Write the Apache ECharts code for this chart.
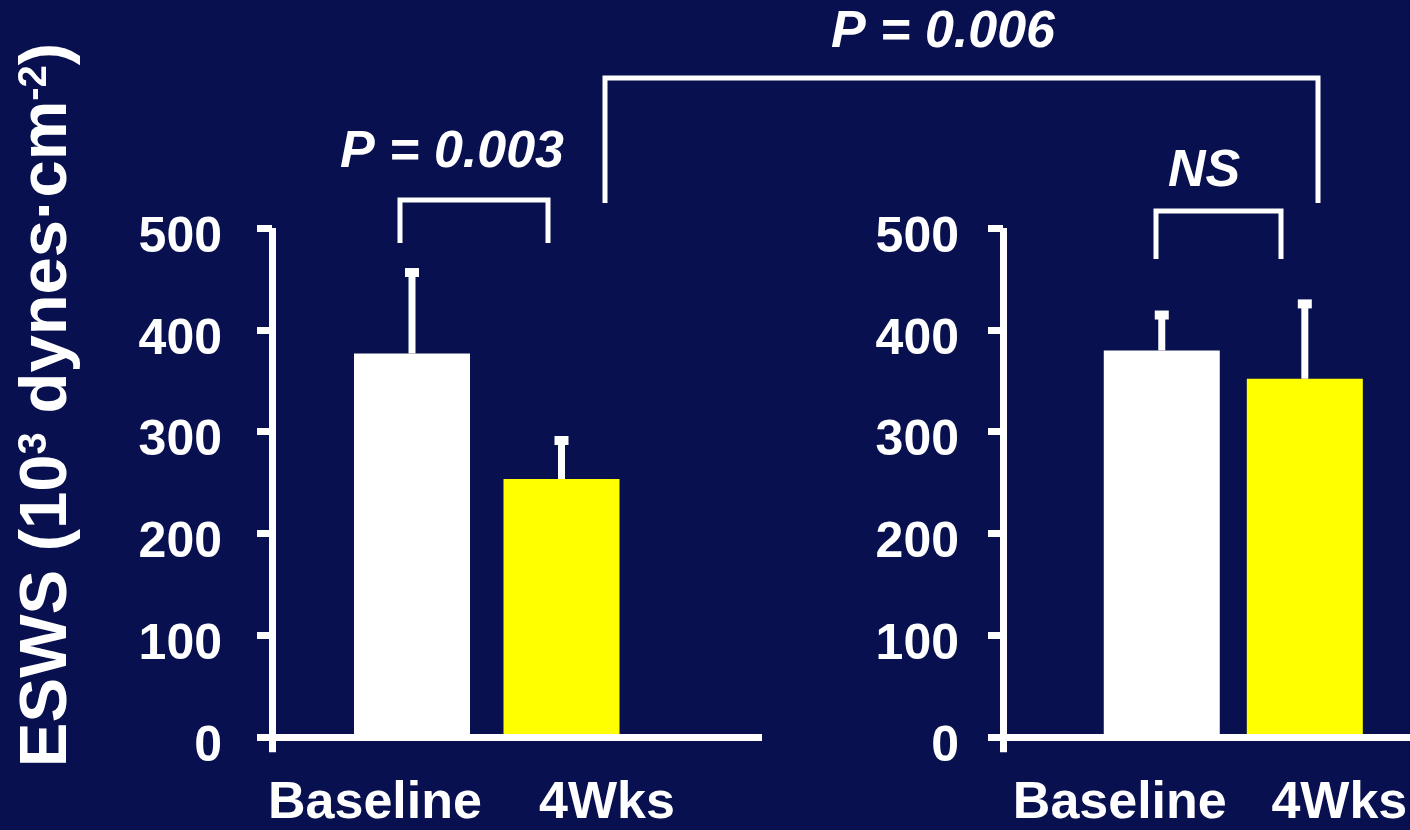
<!DOCTYPE html>
<html><head><meta charset="utf-8">
<script src="https://cdn.jsdelivr.net/npm/echarts@6/dist/echarts.min.js"></script>
<style>html,body{margin:0;padding:0;background:#08104f;}#c{width:1410px;height:830px;}</style>
</head><body><div id="c"></div>
<script>
// ---- data ----
const categories = ['Baseline', '4Wks'];
const yTicks = [0, 100, 200, 300, 400, 500];
const leftMeans = [376, 252];
const leftSD = [80, 38];
const rightMeans = [379, 351];
const rightSD = [35, 74];
const barColors = ['#ffffff', '#ffff00'];
const yTitle = 'ESWS (10{sup|3} dynes·cm{sup|-2})';
const pLeft = 'P = 0.003';
const pRight = 'NS';
const pAcross = 'P = 0.006';

// ---- style ----
const BG = '#08104f';
const FONT = '"Liberation Sans", Arial, Helvetica, sans-serif';
const W = '#ffffff';
const AX_W = 7;

const chart = echarts.init(document.getElementById('c'), null, {renderer: 'canvas'});

function frameY(grid, margin) {
  return {
    type: 'value', gridIndex: grid, min: -15, max: 500,
    axisLine: {show: true, lineStyle: {color: W, width: AX_W, cap: 'butt'}},
    axisTick: {show: true, length: 15, customValues: yTicks, lineStyle: {color: W, width: AX_W}},
    axisLabel: {show: true, customValues: yTicks, margin: margin,
      formatter: '{v|{value}}',
      rich: {v: {color: W, fontFamily: FONT, fontWeight: 'bold', fontSize: 50, padding: [20, 0, 0, 0]}}},
    splitLine: {show: false}
  };
}
function frameX(grid) {
  return {
    type: 'value', gridIndex: grid, min: 0, max: 1,
    axisLine: {show: true, onZero: true, lineStyle: {color: W, width: AX_W, cap: 'butt'}},
    axisTick: {show: false}, axisLabel: {show: false}, splitLine: {show: false}
  };
}
function barsY(grid) {
  return {type: 'value', gridIndex: grid, min: 0, max: 500, show: false,
    axisLine: {show: false}, axisTick: {show: false}, axisLabel: {show: false}, splitLine: {show: false}};
}
function barsX(grid, padB, pad4) {
  return {
    type: 'category', gridIndex: grid, data: categories,
    axisLine: {show: false}, axisTick: {show: false}, splitLine: {show: false},
    axisLabel: {
      show: true, interval: 0, hideOverlap: false, margin: 44,
      formatter: (v, i) => '{' + (i === 0 ? 'a' : 'b') + '|' + v + '}',
      rich: {
        a: {color: W, fontFamily: FONT, fontWeight: 'bold', fontSize: 52, padding: padB},
        b: {color: W, fontFamily: FONT, fontWeight: 'bold', fontSize: 52, padding: pad4}
      }
    }
  };
}
function barSeries(xi, yi, means) {
  return {
    type: 'bar', xAxisIndex: xi, yAxisIndex: yi, barWidth: 116, silent: true,
    data: means.map((v, i) => ({value: v, itemStyle: {color: barColors[i]}}))
  };
}
function errSeries(xi, yi, means, sds) {
  return {
    type: 'custom', xAxisIndex: xi, yAxisIndex: yi, silent: true, z: 3,
    data: means.map((m, i) => [i, m, m + sds[i]]),
    renderItem: function (params, api) {
      const base = api.coord([api.value(0), api.value(1)]);
      const top = api.coord([api.value(0), api.value(2)]);
      const x = base[0];
      return {type: 'group', children: [
        {type: 'rect', shape: {x: x - 3.5, y: top[1], width: 7, height: base[1] - top[1]}, style: {fill: W}},
        {type: 'rect', shape: {x: x - 7, y: top[1] - 4.5, width: 14, height: 9}, style: {fill: W}}
      ]};
    }
  };
}

// grids: 0 left frame, 1 right frame, 2 left bars, 3 right bars
const y0px = 737, scale = 509 / 500;
const frameBottom = 830 - (y0px + 15 * scale);
const option = {
  backgroundColor: BG,
  animation: false,
  grid: [
    {left: 272, right: 648, top: 228, bottom: frameBottom},
    {left: 1003, right: 0, top: 228, bottom: frameBottom},
    {left: 337.25, right: 1410 - 636.25, top: 228, bottom: 830 - y0px},
    {left: 1090.25, right: 1410 - 1377.25, top: 228, bottom: 830 - y0px}
  ],
  xAxis: [frameX(0), frameX(1), barsX(2, [0, 74, 0, 0], [0, 0, 0, 91]), barsX(3, [0, 84, 0, 0], [0, 0, 0, 69])],
  yAxis: [frameY(0, 50), frameY(1, 44), barsY(2), barsY(3)],
  series: [
    barSeries(2, 2, leftMeans),
    barSeries(3, 3, rightMeans),
    errSeries(2, 2, leftMeans, leftSD),
    errSeries(3, 3, rightMeans, rightSD)
  ],
  graphic: [
    {type: 'text', x: 48, y: 405, rotation: Math.PI / 2,
      style: {text: yTitle, fill: W, font: 'bold 67px ' + FONT, align: 'center', verticalAlign: 'middle',
        rich: {sup: {fill: W, font: 'bold 40px ' + FONT, fontSize: 40, fontWeight: 'bold', fontFamily: FONT, verticalAlign: 'top'}}}},
    {type: 'text', x: 452, y: 153, style: {text: pLeft, fill: W, font: 'italic bold 52px ' + FONT, align: 'center', verticalAlign: 'middle'}},
    {type: 'text', x: 1204, y: 172, style: {text: pRight, fill: W, font: 'italic bold 52px ' + FONT, align: 'center', verticalAlign: 'middle'}},
    {type: 'text', x: 943, y: 33, style: {text: pAcross, fill: W, font: 'italic bold 52px ' + FONT, align: 'center', verticalAlign: 'middle'}},
    {type: 'polyline', shape: {points: [[400, 243], [400, 200], [548, 200], [548, 243]]}, style: {stroke: W, lineWidth: 5, fill: null}},
    {type: 'polyline', shape: {points: [[1156, 259], [1156, 211], [1281, 211], [1281, 259]]}, style: {stroke: W, lineWidth: 5, fill: null}},
    {type: 'polyline', shape: {points: [[605, 203], [605, 78], [1318, 78], [1318, 203]]}, style: {stroke: W, lineWidth: 5, fill: null}}
  ]
};
chart.setOption(option);
</script></body></html>
